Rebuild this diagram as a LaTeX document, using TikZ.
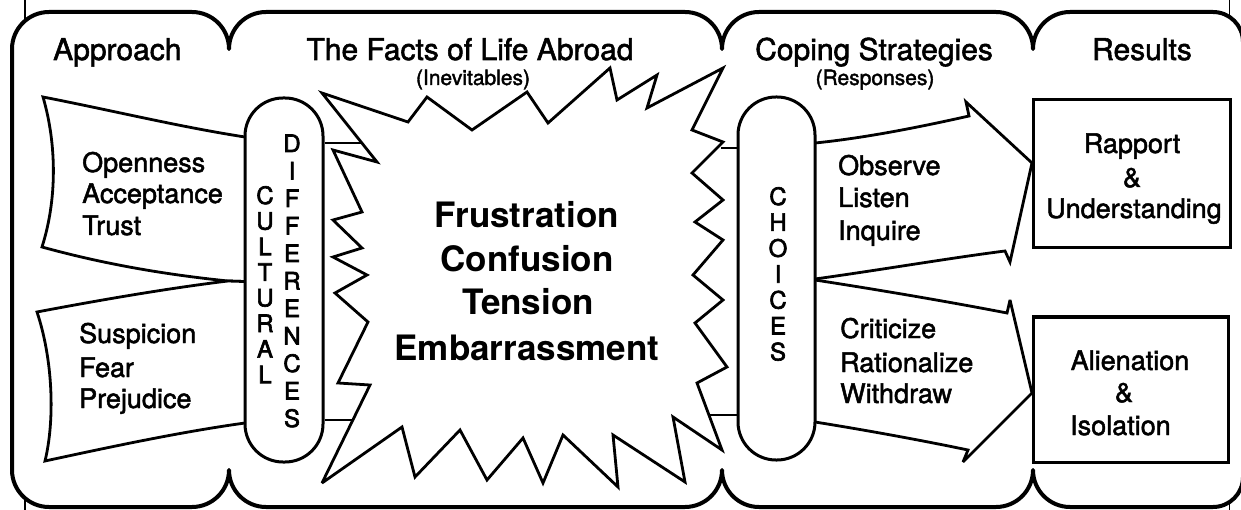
\documentclass[tikz,border=0pt]{standalone}
\usepackage{fontspec}
\setmainfont{TeX Gyre Heros}
\newfontfamily\medfont{TeX Gyre Heros}[FakeBold=1.8]
\newfontfamily\semifont{TeX Gyre Heros}[FakeBold=2.6]
\begin{document}
\begin{tikzpicture}[x=1pt,y=-1pt,
  framepath/.style={line width=4pt, fill=white, line join=round},
  thinline/.style={line width=1.6pt},
  outline/.style={line width=2.8pt, fill=white, line join=miter, miter limit=4},
  capsule/.style={draw, line width=3pt, fill=white, rounded corners=38pt, inner sep=0pt},
  resbox/.style={draw, line width=3pt, fill=white, inner sep=0pt},
  ttl/.style={font=\medfont\fontsize{30}{36}\selectfont, inner sep=0pt},
  subt/.style={font=\medfont\fontsize{21}{25}\selectfont, inner sep=0pt},
  lbl/.style={font=\medfont\fontsize{27}{32}\selectfont, inner sep=0pt},
  bigtxt/.style={font=\fontsize{35}{42}\selectfont\bfseries, inner sep=0pt},
  caplet/.style={font=\semifont\fontsize{24}{28}\selectfont, inner sep=0pt},
  conn/.style={line width=2.8pt}
]
\useasboundingbox (0,0) rectangle (1241,510);
\clip (0,0) rectangle (1241,510);

% thin outer page rectangle
\draw[thinline] (25,-20) rectangle (1229.5,530);

% scalloped frame
\draw[framepath] (12,49)
 .. controls (12,28.6) and (28.6,12) .. (49,12)
 -- (192,12)
 .. controls (212.4,12) and (229,28.6) .. (229,49)
 .. controls (229,28.6) and (245.6,12) .. (266,12)
 -- (685,12)
 .. controls (705.4,12) and (722,28.6) .. (722,49)
 .. controls (722,28.6) and (738.6,12) .. (759,12)
 -- (996,12)
 .. controls (1016.4,12) and (1033,28.6) .. (1033,49)
 .. controls (1033,28.6) and (1049.6,12) .. (1070,12)
 -- (1213,12)
 .. controls (1229.6,12) and (1243,25.4) .. (1243,42)
 -- (1243,477)
 .. controls (1243,493.6) and (1229.6,507) .. (1213,507)
 -- (1070,507)
 .. controls (1049.6,507) and (1033,490.4) .. (1033,470)
 .. controls (1033,490.4) and (1016.4,507) .. (996,507)
 -- (759,507)
 .. controls (738.6,507) and (722,490.4) .. (722,470)
 .. controls (722,490.4) and (705.4,507) .. (685,507)
 -- (266,507)
 .. controls (245.6,507) and (229,490.4) .. (229,470)
 .. controls (229,490.4) and (212.4,507) .. (192,507)
 -- (49,507)
 .. controls (28.6,507) and (12,490.4) .. (12,470)
 -- cycle;

% left banners
\draw[outline] (43,97) .. controls (110,110) and (180,127) .. (245,137) -- (260,137)
  -- (260,282) -- (228,281) .. controls (160,274) and (100,263) .. (42,247)
  .. controls (57,200) and (57,145) .. (43,97) -- cycle;
\draw[outline] (37,312) .. controls (100,300) and (170,288) .. (228,281) -- (260,282)
  -- (260,423) -- (245,423) .. controls (180,432) and (110,447) .. (45,461)
  .. controls (55,420) and (53,360) .. (37,312) -- cycle;

% starburst
\draw[outline] (322,93) -- (377,162) -- (333,150) -- (362,212) -- (333,220) -- (362,248)
  -- (333,257) -- (367,275) -- (335,293) -- (368,322) -- (338,383) -- (370,385)
  -- (322,483) -- (402,427) -- (415,477) -- (460,430) -- (487,480) -- (523,438)
  -- (543,483) -- (563,435) -- (618,487) -- (613,435) -- (685,482) -- (673,417)
  -- (722,450) -- (697,383) -- (727,367) -- (695,323) -- (723,300) -- (693,275)
  -- (723,240) -- (695,222) -- (723,200) -- (692,173) -- (723,142) -- (692,130)
  -- (723,68) -- (647,108) -- (657,75) -- (617,100) -- (610,68) -- (548,123)
  -- (527,92) -- (472,130) -- (427,97) -- (408,122) -- cycle;

% right arrows
\draw[outline] (800,143) -- (815,143) .. controls (865,138) and (920,127) .. (969,116)
  -- (966,102) -- (1032,163) -- (1010,262) -- (1005,251)
  .. controls (950,258) and (880,270) .. (815,279) -- (800,279) -- cycle;
\draw[outline] (800,280) -- (815,280) .. controls (880,290) and (950,302) .. (1007,313)
  -- (1010,300) -- (1032,393) -- (963,462) -- (968,450)
  .. controls (920,440) and (865,430) .. (815,422) -- (800,422) -- cycle;

% capsules
\node[capsule, minimum width=78pt, minimum height=364pt] (cul) at (284,280) {};
\node[capsule, minimum width=77pt, minimum height=363pt] (cho) at (776.5,278.5) {};

% connectors between capsules and starburst
\coordinate (b1) at (362,143);
\coordinate (b2) at (353,420);
\coordinate (b3) at (721,148);
\coordinate (b4) at (709,415);
\draw[conn] (cul.east |- b1) -- (b1);
\draw[conn] (cul.east |- b2) -- (b2);
\draw[conn] (b3) -- (cho.west |- b3);
\draw[conn] (b4) -- (cho.west |- b4);

% result boxes
\node[resbox, minimum width=197pt, minimum height=148pt] (rap) at (1131.5,174) {};
\node[resbox, minimum width=195pt, minimum height=145pt] (ali) at (1130.5,389.5) {};

% titles
\node[ttl, anchor=base west] (t1) at (53,60) {Approach};
\node[ttl, anchor=base] (t2) at (470,60) {The Facts of Life Abroad};
\node[ttl, anchor=base west] (t3) at (755,60) {Coping Strategies};
\node[ttl, anchor=base] (t4) at (1142,60) {Results};
\node[subt, anchor=base] (s2) at (473,85) {(Inevitables)};
\node[subt, anchor=base] (s3) at (875,85) {(Responses)};

% left labels
\node[lbl, anchor=base west] (l1) at (82,172) {Openness};
\node[lbl, anchor=base west] (l2) at (82,203) {Acceptance};
\node[lbl, anchor=base west] (l3) at (82,235) {Trust};
\node[lbl, anchor=base west] (l4) at (79,343) {Suspicion};
\node[lbl, anchor=base west] (l5) at (79,377) {Fear};
\node[lbl, anchor=base west] (l6) at (79,408) {Prejudice};

% capsule letters
\foreach \c [count=\i from 0] in {C,U,L,T,U,R,A,L}
  \node[caplet, anchor=base] (cu\i) at (265,{204+25.6*\i}) {\c};
\foreach \c [count=\i from 0] in {D,I,F,F,E,R,E,N,C,E,S}
  \node[caplet, anchor=base] (di\i) at (292,{152+27.5*\i}) {\c};
\foreach \c [count=\i from 0] in {C,H,O,I,C,E,S}
  \node[caplet, anchor=base] (ch\i) at (778,{205+25.9*\i}) {\c};

% centre words
\node[bigtxt, anchor=base] (f1) at (527,228) {Frustration};
\node[bigtxt, anchor=base] (f2) at (527,272) {Confusion};
\node[bigtxt, anchor=base] (f3) at (528,315) {Tension};
\node[bigtxt, anchor=base] (f4) at (527,360) {Embarrassment};

% right labels
\node[lbl, anchor=base west] (r1) at (838,175) {Observe};
\node[lbl, anchor=base west] (r2) at (838,207) {Listen};
\node[lbl, anchor=base west] (r3) at (838,240) {Inquire};
\node[lbl, anchor=base west] (r4) at (840,338) {Criticize};
\node[lbl, anchor=base west] (r5) at (840,372) {Rationalize};
\node[lbl, anchor=base west] (r6) at (840,403) {Withdraw};

% result texts
\node[lbl, anchor=base] (q1) at (1132,153) {Rapport};
\node[lbl, anchor=base] (q2) at (1132,187) {\&};
\node[lbl, anchor=base] (q3) at (1134,218) {Understanding};
\node[lbl, anchor=base] (q4) at (1130,370) {Alienation};
\node[lbl, anchor=base] (q5) at (1124,402) {\&};
\node[lbl, anchor=base west] (q6) at (1070,435) {Isolation};
\end{tikzpicture}
\end{document}
